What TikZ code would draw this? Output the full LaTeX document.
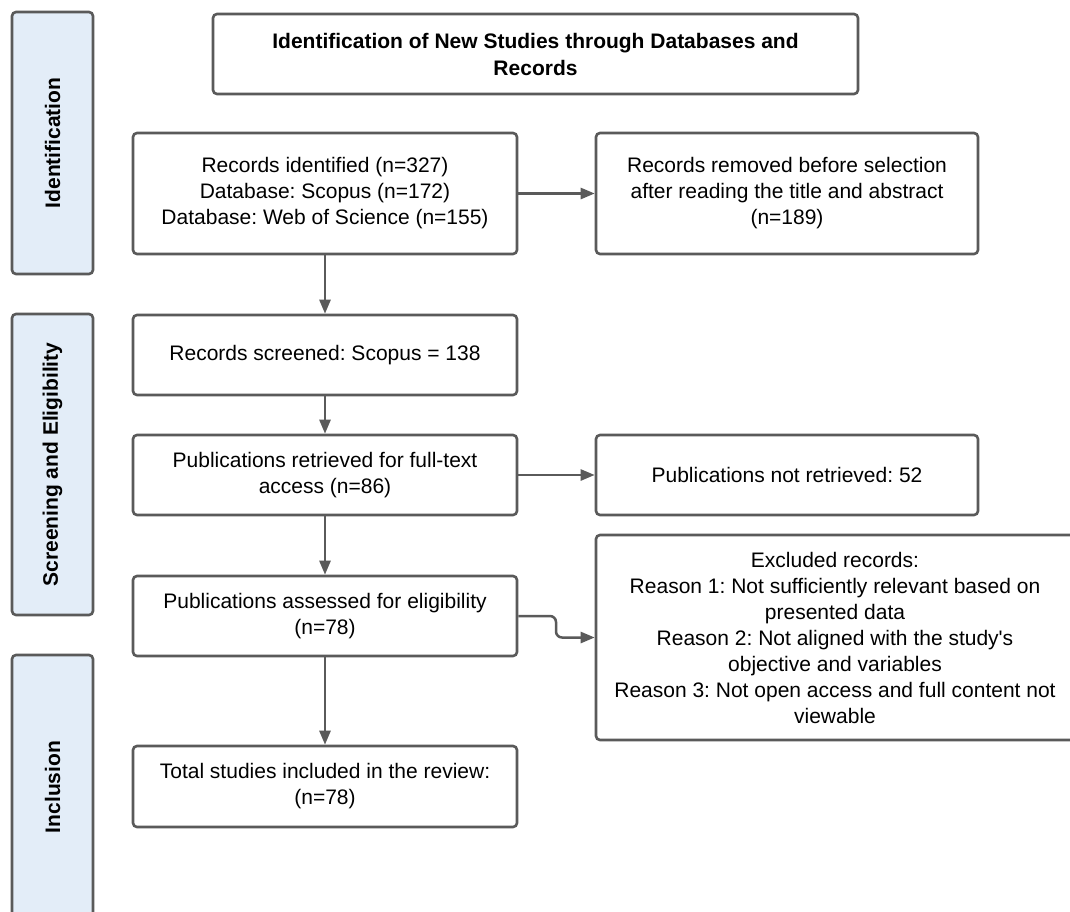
\documentclass[tikz,border=0pt]{standalone}
\usepackage{fontspec}
\setmainfont{Liberation Sans}
\usetikzlibrary{arrows.meta}
\definecolor{edgegray}{HTML}{5A5A5A}
\definecolor{sidefill}{HTML}{E3EDF8}
\frenchspacing
\tikzset{
  box/.style={draw=edgegray, line width=2.6pt, rounded corners=4pt, fill=white,
    align=center, inner sep=0pt, font=\fontsize{21pt}{26pt}\selectfont, text=black},
  sidebox/.style={draw=edgegray, line width=2.6pt, rounded corners=4pt, fill=sidefill,
    rotate=90, inner sep=0pt, minimum height=81pt,
    font=\bfseries\fontsize{21pt}{26pt}\selectfont, text=black},
  arr/.style={draw=edgegray, line width=2.5pt, -{Triangle[length=14pt,width=11pt]}}
}
\begin{document}
\begin{tikzpicture}[x=1pt,y=-1pt]
\useasboundingbox (0,0) rectangle (1070,911);
\clip (0,0) rectangle (1070,911);
\fill[white] (0,0) rectangle (1070,911);

% phase side bars
\node[sidebox, minimum width=262pt] (side1) at (52.5,143) {Identification};
\node[sidebox, minimum width=301pt] (side2) at (52.5,464.5) {Screening and Eligibility};
\node[sidebox, minimum width=264pt] (side3) at (52.5,787) {Inclusion};

% boxes
\node[box, font=\bfseries\fontsize{21pt}{27pt}\selectfont, minimum width=645pt, minimum height=80pt] (title) at (535.5,54)
  {Identification of New Studies through Databases and\\Records};
\node[box, minimum width=384pt, minimum height=121pt] (rec) at (325,193.5)
  {Records identified (n=327)\\Database: Scopus (n=172)\\Database: Web of Science (n=155)};
\node[box, minimum width=382pt, minimum height=121pt] (rem) at (787,193.5)
  {Records removed before selection\\after reading the title and abstract\\(n=189)};
\node[box, minimum width=384pt, minimum height=80pt] (scr) at (325,355)
  {Records screened: Scopus = 138};
\node[box, minimum width=384pt, minimum height=80pt] (ret) at (325,475)
  {Publications retrieved for full-text\\access (n=86)};
\node[box, minimum width=382pt, minimum height=80pt] (nret) at (787,475)
  {Publications not retrieved: 52};
\node[box, minimum width=384pt, minimum height=80pt] (ass) at (325,616)
  {Publications assessed for eligibility\\(n=78)};
\node[box, minimum width=478pt, minimum height=205pt] (exc) at (835,637.5)
  {Excluded records:\\Reason 1: Not sufficiently relevant based on\\presented data\\Reason 2: Not aligned with the study\textquotesingle s\\objective and variables\\Reason 3: Not open access and full content not\\viewable};
\node[box, minimum width=384pt, minimum height=81pt] (tot) at (325,786.5)
  {Total studies included in the review:\\(n=78)};

% connectors
\coordinate (kink) at (556,616);
\draw[arr] (rec) -- (rem);
\draw[arr] (rec) -- (scr);
\draw[arr] (scr) -- (ret);
\draw[arr] (ret) -- (nret);
\draw[arr] (ret) -- (ass);
\draw[arr, rounded corners=6pt] (ass.east) -- (kink) |- (exc.west);
\draw[arr] (ass) -- (tot);
\end{tikzpicture}
\end{document}
